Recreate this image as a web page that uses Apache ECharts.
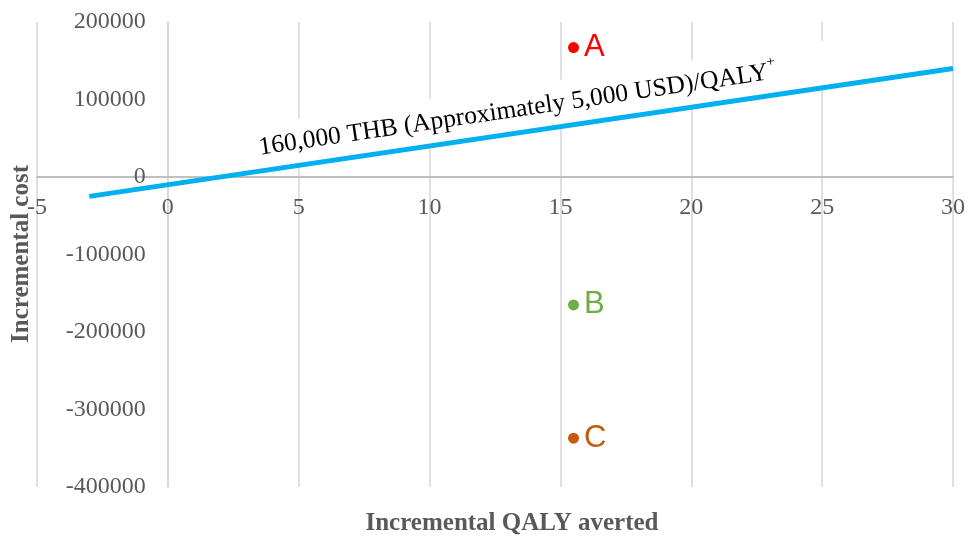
<!DOCTYPE html>
<html>
<head>
<meta charset="utf-8">
<script src="https://cdn.jsdelivr.net/npm/echarts@6/dist/echarts.min.js"></script>
<style>
html,body{margin:0;padding:0;background:#fff;}
#main{width:968px;height:536px;}
</style>
</head>
<body>
<div id="main"></div>
<script>
// ---- data ----
const strategyNames = ['A', 'B', 'C'];
const qalyAverted = [15.5, 15.5, 15.5];
const incrementalCost = [167000, -165000, -337000];
const pointColors = ['#FF0000', '#70AD47', '#C55A11'];
const thresholdX = [-3, 30];
const thresholdY = [-25000, 140000];
const xRange = [-5, 30, 5];
const yRange = [-400000, 200000, 100000];
const thresholdText = '160,000 THB (Approximately 5,000 USD)/QALY';
const thresholdSup = '+';
const annotationAnchor = [3.48, 37300];
const xTitle = 'Incremental QALY averted';
const yTitle = 'Incremental cost';

const serif = 'Liberation Serif';
const chart = echarts.init(document.getElementById('main'));

const series = [{
  type: 'line',
  data: thresholdX.map((x, i) => [x, thresholdY[i]]),
  symbol: 'none',
  lineStyle: {color: '#00B0F0', width: 5},
  z: 3,
  silent: true
}];
strategyNames.forEach((n, i) => {
  series.push({
    type: 'scatter',
    name: n,
    data: [[qalyAverted[i], incrementalCost[i]]],
    symbolSize: 11,
    itemStyle: {color: pointColors[i], opacity: 1},
    label: {
      show: true, position: 'right', distance: 5,
      formatter: n, color: pointColors[i],
      fontFamily: 'Liberation Sans', fontSize: 31
    },
    z: 4
  });
});

chart.setOption({
  animation: false,
  backgroundColor: '#fff',
  grid: {left: 37, right: 15, top: 22, bottom: 49, containLabel: false, outerBoundsMode: 'none'},
  xAxis: {
    type: 'value', min: xRange[0], max: xRange[1], interval: xRange[2],
    axisLine: {show: true, onZero: false, lineStyle: {color: '#bfbfbf', width: 2}},
    axisTick: {show: false},
    splitLine: {show: true, lineStyle: {color: '#d6d6d6', width: 1.5}},
    axisLabel: {margin: 19, fontFamily: serif, fontSize: 24, color: '#595959', formatter: v => String(v)}
  },
  yAxis: {
    type: 'value', min: yRange[0], max: yRange[1], interval: yRange[2],
    axisLine: {show: true, onZero: false, lineStyle: {color: '#d6d6d6', width: 1.5}},
    axisTick: {show: false},
    splitLine: {show: false},
    axisLabel: {margin: 22, fontFamily: serif, fontSize: 24, color: '#595959', formatter: v => String(v)}
  },
  series: series
});

// move axes to cross at zero (through the library's own scales)
const origin = chart.convertToPixel({gridIndex: 0}, [0, 0]);
const corner = chart.convertToPixel({gridIndex: 0}, [xRange[0], yRange[0]]);
chart.setOption({
  xAxis: {offset: origin[1] - corner[1]},
  yAxis: {offset: corner[0] - origin[0]}
});

const p0 = chart.convertToPixel({gridIndex: 0}, [thresholdX[0], thresholdY[0]]);
const p1 = chart.convertToPixel({gridIndex: 0}, [thresholdX[1], thresholdY[1]]);
const angle = Math.atan2(p0[1] - p1[1], p1[0] - p0[0]);
const a = chart.convertToPixel({gridIndex: 0}, annotationAnchor);

chart.setOption({
  graphic: {elements: [
    {
      type: 'text', x: a[0], y: a[1], rotation: angle, z: 1,
      style: {
        x: -20, y: 0,
        text: '{m|' + thresholdText + '}{s|' + thresholdSup + '}',
        rich: {
          m: {fontFamily: serif, fontSize: 25.5, lineHeight: 35, color: '#000'},
          s: {fontFamily: serif, fontSize: 15, lineHeight: 15, color: '#000', verticalAlign: 'top'}
        },
        fill: '#000',
        backgroundColor: '#fff',
        padding: [6, 60, 6, 20],
        align: 'left', verticalAlign: 'middle',
        textAlign: 'left', textVerticalAlign: 'middle'
      }
    },
    {
      type: 'text', x: 22, y: 254, rotation: Math.PI / 2, z: 10,
      style: {
        text: yTitle, fontFamily: serif, fontSize: 25, fontWeight: 'bold', fill: '#595959',
        align: 'center', verticalAlign: 'middle', textAlign: 'center', textVerticalAlign: 'middle'
      }
    },
    {
      type: 'text', x: 512, y: 524, z: 10,
      style: {
        text: xTitle, fontFamily: serif, fontSize: 25, fontWeight: 'bold', fill: '#595959',
        align: 'center', verticalAlign: 'middle', textAlign: 'center', textVerticalAlign: 'middle'
      }
    }
  ]}
});
</script>
</body>
</html>
